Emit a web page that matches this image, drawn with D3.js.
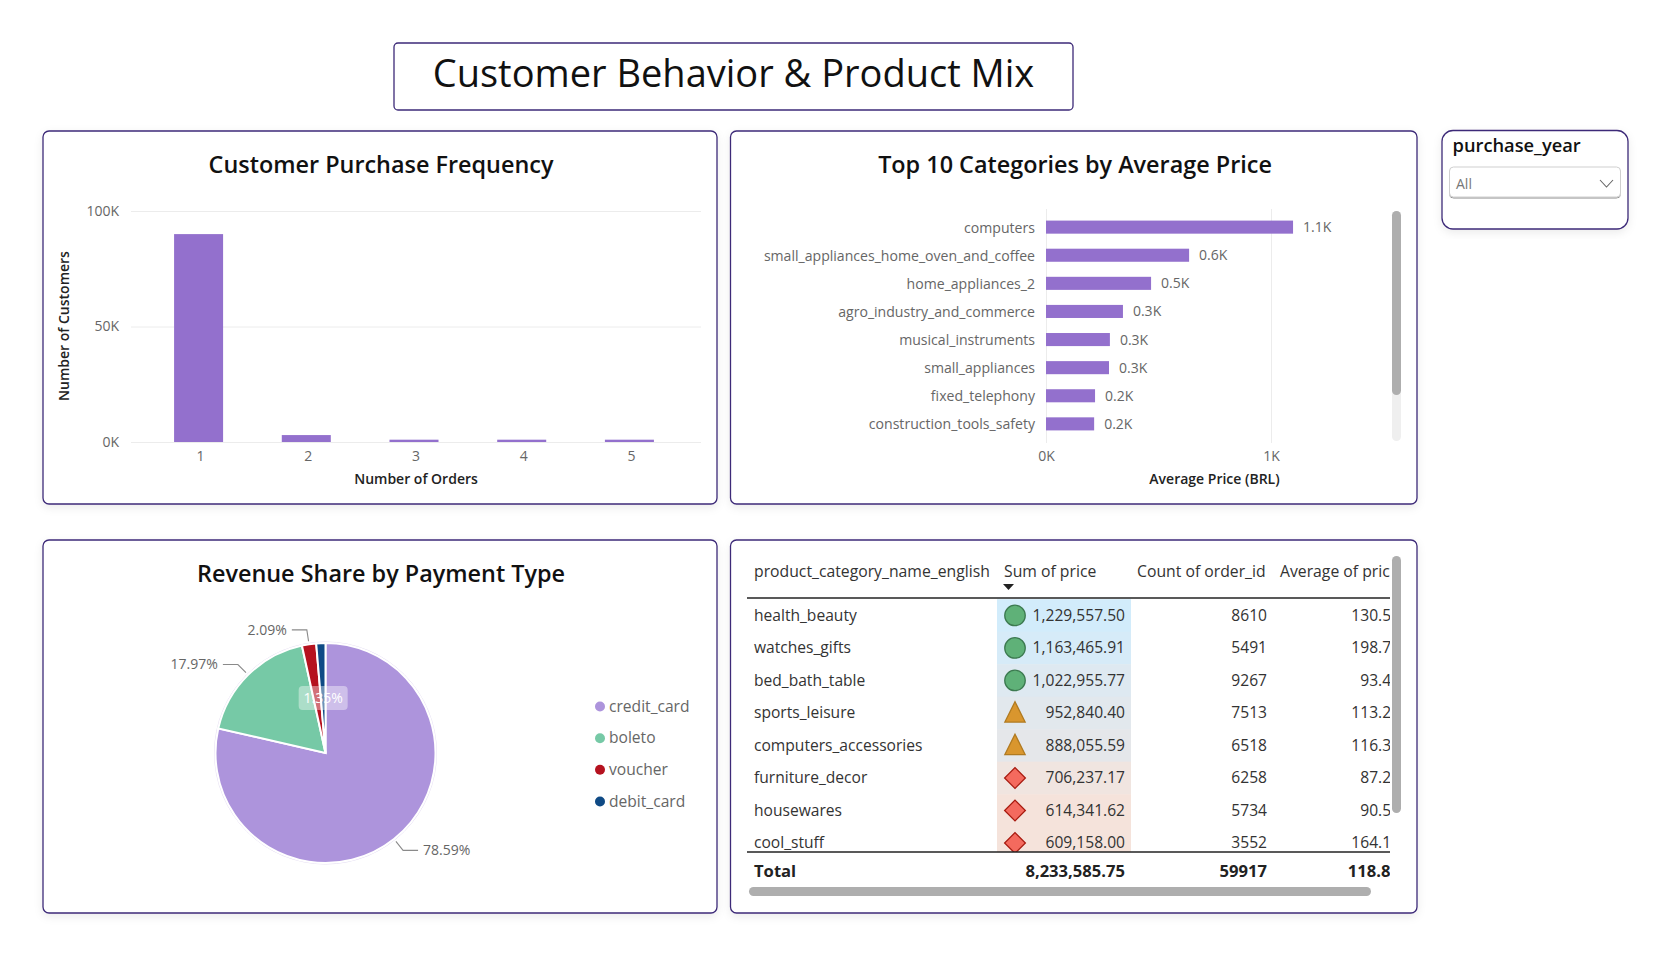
<!DOCTYPE html>
<html><head><meta charset="utf-8">
<script src="https://cdn.jsdelivr.net/npm/d3@7"></script>
<style>
html,body{margin:0;padding:0;background:#fff;}
svg{display:block;font-family:"Open Sans","Noto Sans",sans-serif;}
</style></head><body>
<svg id="c" width="1660" height="960"></svg>
<script>
const mainTitle="Customer Behavior & Product Mix";
const freqOrders=["1","2","3","4","5"];
const freqCustomers=[90000,3000,1000,1000,1000];
const freqTicks=[0,50000,100000];
const catNames=["computers","small_appliances_home_oven_and_coffee","home_appliances_2","agro_industry_and_commerce","musical_instruments","small_appliances","fixed_telephony","construction_tools_safety"];
const catPrices=[1098,636,467,342,284,280,218,214];
const priceTicks=[0,1000];
const payTypes=["credit_card","boleto","voucher","debit_card"];
const payShares=[78.59,17.97,2.09,1.35];
const payColors=["#ad94dc","#76c9a6","#b5121f","#0f4a85"];
const tableHeaders=["product_category_name_english","Sum of price","Count of order_id","Average of price"];
const tblCats=["health_beauty","watches_gifts","bed_bath_table","sports_leisure","computers_accessories","furniture_decor","housewares","cool_stuff"];
const tblSums=[1229557.50,1163465.91,1022955.77,952840.40,888055.59,706237.17,614341.62,609158.00];
const tblCounts=[8610,5491,9267,7513,6518,6258,5734,3552];
const tblAvgs=[130.52,198.75,93.48,113.29,116.34,87.27,90.51,164.18];
const tblIcons=["circle","circle","circle","triangle","triangle","diamond","diamond","diamond"];
const totals=["Total","8,233,585.75","59917","118.83"];

const svg=d3.select("#c");
const PURPLE="#9370cd";
const BORDER="#3d2a78";
const defs=svg.append("defs");
const sh=defs.append("filter").attr("id","sh").attr("x","-5%").attr("y","-5%").attr("width","110%").attr("height","115%");
sh.append("feDropShadow").attr("dx",0).attr("dy",3).attr("stdDeviation",4).attr("flood-color","#000").attr("flood-opacity",0.08);
const sd=defs.append("filter").attr("id","sd").attr("x","-5%").attr("y","-20%").attr("width","110%").attr("height","150%");
sd.append("feDropShadow").attr("dx",0).attr("dy",1).attr("stdDeviation",0.7).attr("flood-color","#000").attr("flood-opacity",0.45);

function panel(x,y,w,h,r){
  svg.append("rect").attr("x",x).attr("y",y).attr("width",w).attr("height",h).attr("rx",r||6)
    .attr("fill","#fff").attr("stroke",BORDER).attr("stroke-width",1.3).attr("filter","url(#sh)");
}
panel(43,131,674,373);panel(730.5,131,686.5,373);panel(43,540,674,373);panel(730.5,540,686.5,373);
panel(1442,130.5,186,98.5,11);
svg.append("rect").attr("x",394).attr("y",43).attr("width",679).attr("height",67).attr("rx",4).attr("fill","#fff").attr("stroke",BORDER).attr("stroke-width",1.3);
svg.append("text").attr("x",733.5).attr("y",87).attr("text-anchor","middle").attr("font-size",38).attr("fill","#111").text(mainTitle);

function title(t,x,y){svg.append("text").attr("x",x).attr("y",y).attr("text-anchor","middle").attr("font-size",23.4).attr("font-weight",600).attr("fill","#111").text(t);}
title("Customer Purchase Frequency",381,173);
title("Top 10 Categories by Average Price",1075,173);
title("Revenue Share by Payment Type",381,582);

function axisTitle(t,x,y,rot){const s=svg.append("text").attr("text-anchor","middle").attr("font-size",14).attr("font-weight",600).attr("fill","#222").text(t);
  if(rot)s.attr("transform",`translate(${x},${y}) rotate(-90)`);else s.attr("x",x).attr("y",y);}
const fmtK=d=>(d/1000)+"K";
function styleAxis(g){g.select(".domain").remove();g.selectAll("text").attr("fill","#666").attr("font-size",14).attr("font-family","'Open Sans'");}

// column chart
const y1=d3.scaleLinear().domain([0,100000]).range([442,211]);
const x1=d3.scaleBand().domain(freqOrders).range([145,683]).paddingInner(0.545).paddingOuter(0.27);
svg.append("g").attr("transform","translate(131,0)")
 .call(d3.axisLeft(y1).tickValues(freqTicks).tickFormat(fmtK).tickSize(-570).tickPadding(12))
 .call(styleAxis).call(g=>g.selectAll("line").attr("stroke","#ececec"));
svg.append("g").selectAll("rect").data(freqOrders).join("rect")
 .attr("x",d=>x1(d)).attr("width",x1.bandwidth()).attr("y",(d,i)=>y1(freqCustomers[i])).attr("height",(d,i)=>y1(0)-y1(freqCustomers[i])).attr("fill",PURPLE);
svg.append("g").attr("transform","translate(2,442)").call(d3.axisBottom(x1).tickSize(0).tickPadding(9)).call(styleAxis);
axisTitle("Number of Customers",69,326,true);
axisTitle("Number of Orders",416,484);

// bar chart
const x2=d3.scaleLinear().domain([0,1000]).range([1046,1271]);
const y2=d3.scaleBand().domain(catNames).range([213,438]).paddingInner(0.535).paddingOuter(0.27);
svg.append("g").attr("transform","translate(0,443)")
 .call(d3.axisBottom(x2).tickValues(priceTicks).tickFormat(fmtK).tickSize(-234).tickPadding(8))
 .call(styleAxis).call(g=>g.selectAll("line").attr("stroke","#ececec"));
svg.append("g").attr("transform","translate(1046,1)").call(d3.axisLeft(y2).tickSize(0).tickPadding(11)).call(styleAxis)
 .call(g=>g.selectAll("text").attr("font-size",14.08));
const bars=svg.append("g");
bars.selectAll("rect").data(catNames).join("rect").attr("x",x2(0)).attr("y",d=>y2(d)).attr("height",y2.bandwidth())
 .attr("width",(d,i)=>x2(catPrices[i])-x2(0)).attr("fill",PURPLE);
bars.selectAll("text").data(catNames).join("text").attr("x",(d,i)=>x2(catPrices[i])+10).attr("y",d=>y2(d)+y2.bandwidth()/2+0.5).attr("dy","0.32em")
 .attr("font-size",14).attr("fill","#666").text((d,i)=>(catPrices[i]/1000).toFixed(1)+"K");
axisTitle("Average Price (BRL)",1214.5,484);
svg.append("rect").attr("x",1392).attr("y",211).attr("width",9).attr("height",230).attr("rx",4.5).attr("fill","#efefef");
svg.append("rect").attr("x",1392).attr("y",211).attr("width",9).attr("height",184).attr("rx",4.5).attr("fill","#aeaeae");

// pie
const R=110,cx=325.5,cy=753;
const pie=d3.pie().sort(null).value(d=>d)(payShares);
const arc=d3.arc().innerRadius(0).outerRadius(R);
const pg=svg.append("g").attr("transform",`translate(${cx},${cy})`);
pg.append("circle").attr("r",R+1).attr("fill","none").attr("stroke","#e6dff3").attr("stroke-width",1);
pg.selectAll("path").data(pie).join("path").attr("d",arc).attr("fill",(d,i)=>payColors[i]).attr("stroke","#fff").attr("stroke-width",2);
const a1=d3.arc().innerRadius(113).outerRadius(113),a2=d3.arc().innerRadius(124.5).outerRadius(124.5);
pie.slice(0,3).forEach(d=>{
  const p=a1.centroid(d),q=a2.centroid(d),right=(d.startAngle+d.endAngle)/2<Math.PI,dir=right?1:-1;
  pg.append("path").attr("d",d3.line()([p,q,[q[0]+dir*15,q[1]]])).attr("fill","none").attr("stroke","#8a8a8a").attr("stroke-width",1.1);
  pg.append("text").attr("x",q[0]+dir*20).attr("y",q[1]).attr("dy","0.34em").attr("text-anchor",right?"start":"end").attr("font-size",14).attr("fill","#666").text(d.data.toFixed(2)+"%");
});
const lastSlice=pie[3];
const inside=d3.arc().innerRadius(R*0.5).outerRadius(R*0.5).centroid(lastSlice);
pg.append("rect").attr("x",inside[0]-24.5).attr("y",inside[1]-12).attr("width",49).attr("height",24).attr("rx",4).attr("fill","#fff").attr("fill-opacity",0.4);
pg.append("text").attr("x",inside[0]).attr("y",inside[1]).attr("dy","0.34em").attr("text-anchor","middle").attr("font-size",14).attr("fill","#fff").text(lastSlice.data.toFixed(2)+"%");
const ly=d3.scalePoint().domain(payTypes).range([706.5,801.5]);
const lg=svg.append("g").selectAll("g").data(payTypes).join("g").attr("transform",d=>`translate(600,${ly(d)})`);
lg.append("circle").attr("r",5).attr("fill",(d,i)=>payColors[i]);
lg.append("text").attr("x",9).attr("dy","0.34em").attr("font-size",15.6).attr("fill","#666").text(d=>d);

// table
const TF=15.6;
defs.append("clipPath").attr("id","tc").append("rect").attr("x",747).attr("y",550).attr("width",643).attr("height",350);
defs.append("clipPath").attr("id","rc").append("rect").attr("x",747).attr("y",598).attr("width",643).attr("height",254);
const tb=svg.append("g").attr("clip-path","url(#tc)");
const headX=[754,1004,1137,1280];
tableHeaders.forEach((h,i)=>tb.append("text").attr("x",headX[i]).attr("y",572).attr("dy","0.34em").attr("font-size",15.75).attr("fill","#333").text(h));
tb.append("path").attr("d","M1003 584h11l-5.5 6z").attr("fill","#222");
const rowY=d3.scaleBand().domain(tblCats).range([599.2,859.2]);
const bg=d3.scaleLinear().domain([609158,930000,1229557]).range(["#f5e3db","#e3e8ec","#d2ecfb"]).clamp(true);
const rows=tb.append("g").attr("clip-path","url(#rc)").selectAll("g").data(tblCats).join("g").attr("transform",d=>`translate(0,${rowY(d)})`);
const rh=rowY.bandwidth();
rows.append("rect").attr("x",997).attr("width",134).attr("height",rh+0.5).attr("fill",(d,i)=>bg(tblSums[i]));
rows.append("text").attr("x",754).attr("y",rh/2).attr("dy","0.34em").attr("font-size",TF).attr("fill","#333").text(d=>d);
const fmt2=d3.format(",.2f");
rows.append("text").attr("x",1125).attr("y",rh/2).attr("dy","0.34em").attr("text-anchor","end").attr("font-size",TF).attr("fill","#333").text((d,i)=>fmt2(tblSums[i]));
rows.append("text").attr("x",1267).attr("y",rh/2).attr("dy","0.34em").attr("text-anchor","end").attr("font-size",TF).attr("fill","#333").text((d,i)=>tblCounts[i]);
rows.append("text").attr("x",1400).attr("y",rh/2).attr("dy","0.34em").attr("text-anchor","end").attr("font-size",TF).attr("fill","#333").text((d,i)=>tblAvgs[i].toFixed(2));
const tallTriangle={draw(ctx,size){const h=Math.sqrt(size);ctx.moveTo(0,-h*0.55);ctx.lineTo(h*0.5,h*0.45);ctx.lineTo(-h*0.5,h*0.45);ctx.closePath();}};
const ICON={circle:[d3.symbolCircle,330,"#5fb178","#3c7a50"],triangle:[tallTriangle,410,"#d9962e","#b07a20"],diamond:[d3.symbolSquare,215,"#f46a5e","#a81b10"]};
rows.append("path").attr("transform",(d,i)=>`translate(1015,${rh/2}) rotate(${tblIcons[i]=="diamond"?45:0})`)
 .attr("d",(d,i)=>d3.symbol().type(ICON[tblIcons[i]][0]).size(ICON[tblIcons[i]][1])())
 .attr("fill",(d,i)=>ICON[tblIcons[i]][2]).attr("stroke",(d,i)=>ICON[tblIcons[i]][3]).attr("stroke-width",1.3);
[598,852].forEach(v=>tb.append("line").attr("x1",747).attr("x2",1390).attr("y1",v).attr("y2",v).attr("stroke","#222").attr("stroke-width",1.4));
const totX=[754,1125,1267,1400];
totals.forEach((t,i)=>tb.append("text").attr("x",totX[i]).attr("y",871).attr("dy","0.34em").attr("text-anchor",i?"end":"start").attr("font-size",16.6).attr("font-weight",700).attr("fill","#222").text(t));
svg.append("rect").attr("x",1392).attr("y",556).attr("width",9).attr("height",257).attr("rx",4.5).attr("fill","#aeaeae");
svg.append("rect").attr("x",749).attr("y",887).attr("width",622).attr("height",9).attr("rx",4.5).attr("fill","#aeaeae");

// slicer
svg.append("text").attr("x",1452.5).attr("y",152).attr("font-size",18.3).attr("font-weight",600).attr("fill","#111").text("purchase_year");
svg.append("rect").attr("x",1449.5).attr("y",167).attr("width",171).attr("height",30).attr("rx",4).attr("fill","#fff").attr("stroke","#cfcfcf").attr("stroke-width",1).attr("filter","url(#sd)");
svg.append("text").attr("x",1456).attr("y",184).attr("dy","0.34em").attr("font-size",14).attr("fill","#777").text("All");
svg.append("path").attr("d","M1600 180l6.5 7 6.5-7").attr("fill","none").attr("stroke","#666").attr("stroke-width",1.1);
</script></body></html>
